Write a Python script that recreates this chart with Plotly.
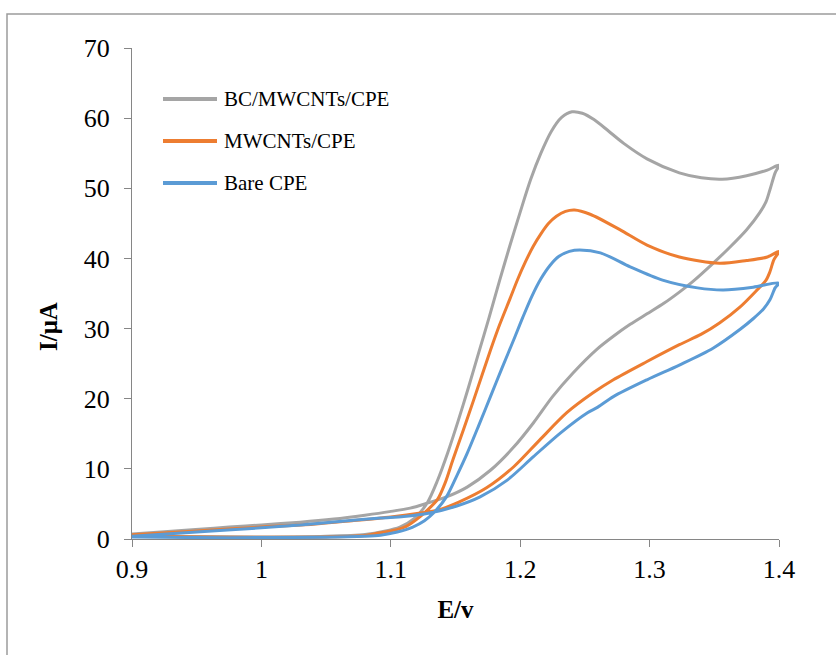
import plotly.graph_objects as go

# ---- data (E in V, I in µA) ----
names = ["BC/MWCNTs/CPE", "MWCNTs/CPE", "Bare CPE"]
colors = ["#A5A5A5", "#ED7D31", "#5B9BD5"]

gray_fwd_E = [0.90, 0.95, 1.00, 1.05, 1.08, 1.095, 1.107, 1.118, 1.128, 1.136, 1.144, 1.152, 1.160, 1.168,
              1.176, 1.184, 1.192, 1.200, 1.208, 1.216, 1.224, 1.232, 1.240, 1.248, 1.257, 1.268, 1.280,
              1.298, 1.323, 1.340, 1.356, 1.375, 1.391, 1.400]
gray_fwd_I = [0.55, 0.35, 0.30, 0.40, 0.65, 1.1, 1.7, 2.9, 5.1, 8.3, 12.3, 16.8, 21.6, 26.6,
              31.6, 36.8, 41.8, 46.6, 51.2, 55.0, 58.1, 60.1, 60.9, 60.7, 59.8, 58.2, 56.4,
              54.2, 52.2, 51.5, 51.3, 51.8, 52.6, 53.3]
gray_rev_E = [1.400, 1.397, 1.393, 1.390, 1.385, 1.375, 1.362, 1.349, 1.334, 1.323, 1.311, 1.298, 1.285,
              1.272, 1.259, 1.241, 1.225, 1.210, 1.195, 1.177, 1.159, 1.143, 1.128, 1.115, 1.099, 1.080,
              1.056, 1.030, 1.000, 0.975, 0.952, 0.925, 0.900]
gray_rev_I = [53.3, 52.2, 49.8, 48.1, 46.5, 44.1, 41.6, 39.3, 36.8, 35.2, 33.6, 32.1, 30.6,
              28.9, 27.0, 23.7, 20.3, 16.5, 13.1, 9.8, 7.4, 6.0, 5.1, 4.4, 3.9, 3.4,
              2.85, 2.4, 2.0, 1.7, 1.4, 1.05, 0.7]

orange_fwd_E = [0.90, 0.95, 1.00, 1.05, 1.08, 1.092, 1.104, 1.112, 1.120, 1.127, 1.136, 1.142, 1.148,
                1.156, 1.164, 1.177, 1.184, 1.192, 1.198, 1.204, 1.210, 1.216, 1.222, 1.228, 1.235,
                1.242, 1.254, 1.277, 1.298, 1.323, 1.354, 1.375, 1.391, 1.400]
orange_fwd_I = [0.45, 0.30, 0.25, 0.30, 0.50, 0.9, 1.3, 1.8, 2.8, 3.9, 5.6, 8.0, 11.3,
                15.5, 19.8, 26.9, 30.5, 34.2, 37.0, 39.5, 41.7, 43.5, 45.0, 46.0, 46.7,
                46.9, 46.3, 44.1, 41.9, 40.2, 39.3, 39.7, 40.2, 41.0]
orange_rev_E = [1.400, 1.396, 1.393, 1.390, 1.383, 1.370, 1.354, 1.340, 1.323, 1.298, 1.272, 1.256,
                1.236, 1.215, 1.195, 1.174, 1.153, 1.136, 1.123, 1.100, 1.070, 1.040, 1.000, 0.950, 0.900]
orange_rev_I = [41.0, 39.8, 38.1, 36.9, 35.5, 33.1, 30.8, 29.2, 27.7, 25.3, 22.7, 20.8,
                18.0, 14.1, 10.3, 7.3, 5.3, 4.1, 3.7, 3.15, 2.6, 2.1, 1.7, 1.15, 0.6]

blue_fwd_E = [0.90, 0.95, 1.00, 1.05, 1.08, 1.092, 1.105, 1.117, 1.126, 1.133, 1.143, 1.151, 1.159,
              1.168, 1.177, 1.186, 1.195, 1.202, 1.209, 1.216, 1.223, 1.230, 1.238, 1.246, 1.262,
              1.285, 1.310, 1.337, 1.357, 1.380, 1.400]
blue_fwd_I = [0.30, 0.20, 0.20, 0.25, 0.40, 0.55, 1.0, 1.7, 2.6, 3.7, 6.0, 9.0, 12.2,
              16.2, 20.3, 24.4, 28.4, 31.6, 34.6, 37.1, 39.0, 40.3, 41.0, 41.2, 40.8,
              38.8, 36.9, 35.8, 35.5, 35.9, 36.5]
blue_rev_E = [1.400, 1.397, 1.393, 1.388, 1.380, 1.370, 1.349, 1.323, 1.298, 1.272, 1.260, 1.252,
              1.231, 1.210, 1.190, 1.169, 1.151, 1.130, 1.110, 1.092, 1.060, 1.030, 1.000, 0.950, 0.900]
blue_rev_I = [36.5, 35.8, 34.1, 32.8, 31.4, 29.9, 27.2, 24.8, 22.7, 20.3, 18.8, 18.0,
              15.1, 11.7, 8.4, 6.0, 4.7, 3.7, 3.2, 3.0, 2.5, 2.0, 1.6, 1.0, 0.4]

x_ticks = [0.9, 1.0, 1.1, 1.2, 1.3, 1.4]
x_tick_labels = ["0.9", "1", "1.1", "1.2", "1.3", "1.4"]
y_ticks = [0, 10, 20, 30, 40, 50, 60, 70]

series = [
    (gray_fwd_E + gray_rev_E[1:], gray_fwd_I + gray_rev_I[1:]),
    (orange_fwd_E + orange_rev_E[1:], orange_fwd_I + orange_rev_I[1:]),
    (blue_fwd_E + blue_rev_E[1:], blue_fwd_I + blue_rev_I[1:]),
]

FONT = "Liberation Serif, Times New Roman, serif"
AXC = "#868686"

fig = go.Figure()
for (ex, iy), nm, c in zip(series, names, colors):
    fig.add_trace(go.Scatter(x=ex, y=iy, mode="lines", name=nm,
                             line=dict(color=c, width=3, shape="spline", smoothing=0.8),
                             showlegend=False))

# plot area in pixels: x 132..779, y 48..539
L, R, T, B = 132, 57, 48, 116
W, H = 836 - L - R, 655 - T - B

def px2x(p):
    return (p - L) / W

def py2y(p):
    return (655 - B - p) / H

# manual legend
leg_y = [99, 141, 183]
for nm, c, yy in zip(names, colors, leg_y):
    fig.add_shape(type="line", xref="paper", yref="paper",
                  x0=px2x(163), x1=px2x(217), y0=py2y(yy), y1=py2y(yy),
                  line=dict(color=c, width=4))
    fig.add_annotation(xref="paper", yref="paper", x=px2x(222), y=py2y(yy),
                       text=nm, showarrow=False, xanchor="left", yanchor="middle",
                       font=dict(family=FONT, size=21, color="black"))

# y-axis title
fig.add_annotation(xref="paper", yref="paper", x=px2x(48), y=py2y(327),
                   text="<b>I/μA</b>", showarrow=False, textangle=-90,
                   xanchor="center", yanchor="middle",
                   font=dict(family=FONT, size=25, color="black"))

# outer chart frame
fig.add_shape(type="rect", xref="paper", yref="paper",
              x0=px2x(7), x1=px2x(900), y0=py2y(720), y1=py2y(14),
              line=dict(color="#9C9C9C", width=1.5), layer="below")

fig.update_layout(
    width=836, height=655,
    margin=dict(l=L, r=R, t=T, b=B),
    paper_bgcolor="white", plot_bgcolor="white",
    font=dict(family=FONT, color="black"),
)
fig.update_xaxes(range=[0.9, 1.4], tickvals=x_ticks, ticktext=x_tick_labels,
                 showgrid=False, zeroline=False, showline=True, linecolor=AXC, linewidth=1,
                 ticks="outside", ticklen=7, tickcolor=AXC,
                 tickfont=dict(family=FONT, size=26, color="black"),
                 title=dict(text="<b>E/v</b>", font=dict(family=FONT, size=25, color="black"),
                            standoff=17))
fig.update_yaxes(range=[0, 70], tickvals=y_ticks,
                 showgrid=False, zeroline=False, showline=True, linecolor=AXC, linewidth=1,
                 ticks="outside", ticklen=7, tickcolor=AXC, ticklabelstandoff=9,
                 tickfont=dict(family=FONT, size=26, color="black"))

fig.write_html("out.html")
